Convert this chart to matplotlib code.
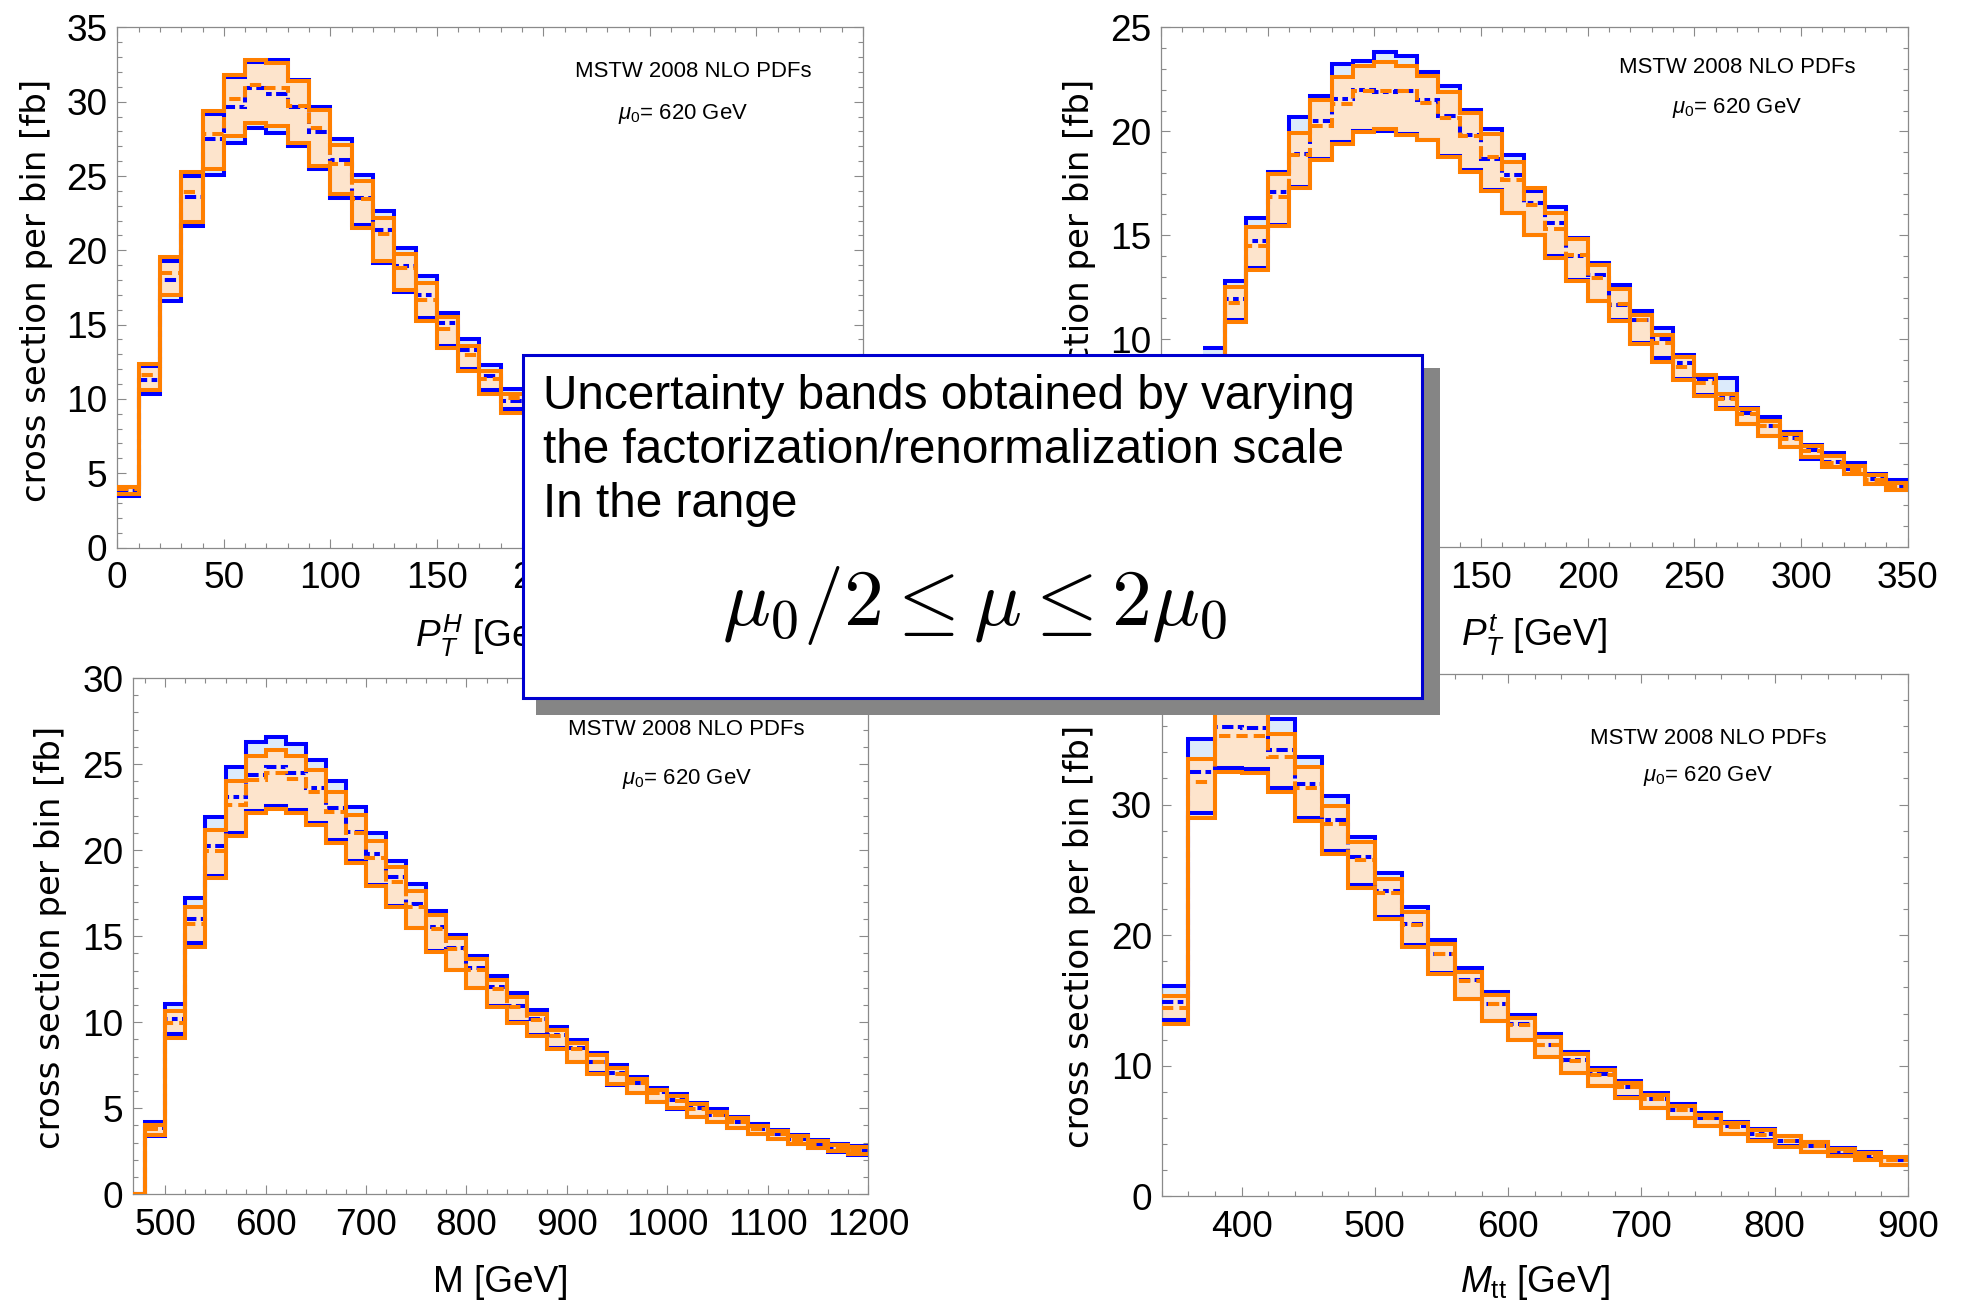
import numpy as np
import matplotlib
matplotlib.use("Agg")
import matplotlib.pyplot as plt
from matplotlib import font_manager as fm
from matplotlib.patches import Rectangle
from matplotlib.ticker import MultipleLocator

# ---------------- data (cross section per bin [fb]) ----------------
# columns: blue upper / blue central / blue lower / orange upper / orange central / orange lower
PTH_EDGES = list(range(0, 200, 10))
PTH_BLUE_HI = [4.1, 12.2, 19.3, 25.02, 29.14, 31.66, 32.65, 32.82, 31.48, 29.65, 27.47, 25.09, 22.64, 20.17, 18.27, 15.78, 14.03, 12.31, 10.68]
PTH_BLUE_C = [3.85, 11.3, 18.0, 23.57, 27.52, 29.65, 30.92, 30.52, 29.65, 27.96, 26.07, 23.51, 21.39, 18.96, 17.0, 15.11, 13.3, 11.52, 9.83]
PTH_BLUE_LO = [3.45, 10.35, 16.56, 21.61, 25.09, 27.2, 28.25, 27.92, 27.03, 25.47, 23.53, 21.68, 19.15, 17.2, 15.45, 13.58, 12.03, 10.62, 9.35]
PTH_OR_HI = [4.1, 12.35, 19.57, 25.25, 29.37, 31.8, 32.82, 32.6, 31.41, 29.41, 27.09, 24.69, 22.17, 19.72, 17.78, 15.49, 13.58, 11.89, 10.34]
PTH_OR_C = [3.95, 11.6, 18.45, 23.91, 27.8, 30.21, 31.1, 30.92, 29.74, 28.25, 25.8, 23.45, 21.12, 18.83, 16.67, 14.71, 12.93, 11.33, 10.06]
PTH_OR_LO = [3.6, 10.6, 17.0, 21.9, 25.47, 27.7, 28.54, 28.36, 27.25, 25.69, 23.8, 21.5, 19.25, 17.3, 15.27, 13.44, 11.89, 10.34, 9.07]

PTT_EDGES = list(range(20, 360, 10))
PTT_BLUE_HI = [9.58, 12.81, 15.81, 18.05, 20.69, 21.69, 23.24, 23.4, 23.8, 23.64, 22.84, 22.16, 21.04, 20.13, 18.85, 17.14, 16.37, 14.86, 13.66, 12.62, 11.34, 10.55, 9.23, 8.17, 8.11, 6.69, 6.25, 5.54, 4.93, 4.52, 4.06, 3.51, 3.2]
PTT_BLUE_C = [8.9, 11.95, 14.7, 17.09, 18.93, 20.48, 21.56, 22.0, 21.88, 21.96, 21.49, 20.73, 19.81, 18.69, 17.89, 16.53, 15.61, 13.98, 13.1, 11.66, 10.94, 10.0, 8.84, 8.07, 7.16, 6.45, 5.84, 5.25, 4.65, 4.1, 3.75, 3.25, 2.95]
PTT_BLUE_LO = [8.2, 10.9, 13.4, 15.5, 17.3, 18.69, 19.49, 20.02, 20.02, 19.89, 19.6, 18.82, 18.13, 17.17, 16.05, 15.02, 13.98, 12.86, 11.85, 10.9, 9.82, 9.09, 8.07, 7.3, 6.7, 5.94, 5.33, 4.83, 4.22, 3.85, 3.51, 3.04, 2.76]
PTT_OR_HI = [9.2, 12.51, 15.41, 17.94, 19.94, 21.49, 22.6, 23.16, 23.32, 23.16, 22.68, 21.88, 20.88, 19.89, 18.53, 17.28, 16.05, 14.81, 13.58, 12.42, 11.18, 10.2, 9.13, 8.28, 7.36, 6.65, 6.04, 5.44, 4.87, 4.38, 3.91, 3.45, 3.1]
PTT_OR_C = [8.8, 11.74, 14.49, 16.85, 18.85, 20.26, 21.33, 21.93, 21.96, 21.93, 21.37, 20.65, 19.76, 18.77, 17.65, 16.45, 15.29, 14.06, 12.94, 11.7, 10.9, 9.8, 8.68, 7.9, 7.1, 6.4, 5.8, 5.2, 4.6, 4.05, 3.72, 3.22, 2.92]
PTT_OR_LO = [8.3, 10.81, 13.31, 15.45, 17.25, 18.64, 19.41, 19.97, 20.13, 19.84, 19.57, 18.77, 18.05, 17.14, 16.09, 15.02, 13.9, 12.8, 11.82, 10.86, 9.78, 8.92, 8.05, 7.26, 6.65, 5.94, 5.33, 4.83, 4.32, 3.85, 3.51, 3.04, 2.76]

M_EDGES = list(range(460, 1220, 20))
M_BLUE_HI = [0, 4.21, 11.05, 17.2, 21.95, 24.82, 26.28, 26.6, 26.16, 25.25, 23.99, 22.53, 20.98, 19.37, 18.01, 16.48, 15.06, 13.86, 12.68, 11.67, 10.69, 9.74, 8.98, 8.21, 7.5, 6.83, 6.17, 5.83, 5.33, 4.93, 4.52, 4.1, 3.74, 3.43, 3.14, 2.9, 2.79]
M_BLUE_C = [0, 3.86, 10.17, 15.97, 20.24, 23.07, 24.37, 24.8, 24.47, 23.6, 22.43, 21.08, 19.76, 18.46, 16.85, 15.55, 14.33, 13.13, 12.06, 10.95, 10.17, 9.26, 8.5, 7.71, 7.02, 6.48, 5.93, 5.5, 5.0, 4.6, 4.2, 3.8, 3.5, 3.2, 2.95, 2.7, 2.55]
M_BLUE_LO = [0, 3.38, 9.33, 14.58, 18.5, 21.02, 22.3, 22.59, 22.34, 21.6, 20.59, 19.39, 17.97, 16.75, 15.5, 14.15, 13.05, 11.98, 10.95, 10.02, 9.26, 8.5, 7.67, 7.02, 6.36, 5.88, 5.36, 4.98, 4.5, 4.21, 3.86, 3.5, 3.21, 2.9, 2.67, 2.48, 2.31]
M_OR_HI = [0, 4.05, 10.64, 16.71, 21.17, 23.99, 25.48, 25.83, 25.44, 24.63, 23.4, 22.05, 20.55, 19.0, 17.62, 16.23, 14.87, 13.65, 12.48, 11.48, 10.45, 9.57, 8.79, 8.07, 7.36, 6.71, 6.07, 5.69, 5.24, 4.81, 4.45, 3.98, 3.68, 3.38, 3.08, 2.85, 2.72]
M_OR_C = [0, 3.8, 9.98, 15.7, 19.95, 22.63, 24.08, 24.47, 24.14, 23.4, 22.24, 20.98, 19.52, 18.17, 16.71, 15.41, 14.25, 13.05, 11.95, 10.9, 10.1, 9.2, 8.45, 7.7, 7.0, 6.45, 5.9, 5.45, 4.98, 4.58, 4.18, 3.78, 3.48, 3.18, 2.92, 2.68, 2.53]
M_OR_LO = [0, 3.43, 9.1, 14.38, 18.36, 20.84, 22.14, 22.4, 22.14, 21.46, 20.44, 19.23, 17.91, 16.67, 15.45, 14.09, 13.03, 11.96, 10.9, 9.98, 9.2, 8.45, 7.7, 7.0, 6.4, 5.9, 5.38, 5.0, 4.52, 4.23, 3.88, 3.52, 3.23, 2.92, 2.69, 2.5, 2.33]

MTT_EDGES = list(range(340, 920, 20))
MTT_BLUE_HI = [16.09, 35.0, 38.8, 38.7, 36.55, 33.67, 30.69, 27.55, 24.75, 22.15, 19.66, 17.52, 15.63, 13.88, 12.41, 11.06, 9.84, 8.81, 7.94, 7.09, 6.38, 5.69, 5.13, 4.66, 4.19, 3.72, 3.41, 3.03]
MTT_BLUE_C = [14.9, 32.5, 35.96, 35.9, 34.2, 31.58, 28.85, 25.97, 23.37, 20.88, 18.59, 16.55, 14.75, 13.19, 11.63, 10.44, 9.34, 8.41, 7.47, 6.63, 6.0, 5.38, 4.75, 4.28, 3.88, 3.5, 3.1, 2.81]
MTT_BLUE_LO = [13.5, 29.36, 32.78, 32.7, 31.25, 28.95, 26.43, 23.81, 21.38, 19.22, 17.1, 15.15, 13.46, 11.96, 10.71, 9.46, 8.46, 7.58, 6.8, 6.02, 5.4, 4.77, 4.3, 3.83, 3.43, 3.15, 2.83, 2.43]
MTT_OR_HI = [15.31, 33.5, 37.9, 37.8, 35.4, 32.9, 29.92, 27.12, 24.32, 21.77, 19.35, 17.2, 15.44, 13.66, 12.19, 10.91, 9.69, 8.72, 7.78, 6.94, 6.25, 5.59, 5.06, 4.59, 4.13, 3.66, 3.36, 2.98]
MTT_OR_C = [14.44, 31.7, 35.27, 35.27, 33.67, 31.25, 28.52, 25.77, 23.22, 20.75, 18.53, 16.5, 14.7, 13.1, 11.6, 10.4, 9.3, 8.38, 7.45, 6.6, 5.98, 5.35, 4.73, 4.26, 3.86, 3.48, 3.08, 2.79]
MTT_OR_LO = [13.19, 28.98, 32.5, 32.45, 30.94, 28.72, 26.23, 23.63, 21.26, 19.09, 17.06, 15.13, 13.44, 11.94, 10.69, 9.44, 8.44, 7.56, 6.78, 6.0, 5.38, 4.75, 4.28, 3.81, 3.41, 3.13, 2.81, 2.41]

ANNOT_PDF = "MSTW 2008 NLO PDFs"
ANNOT_MU = r"$\mu_0$= 620 GeV"
YLABEL = "cross section per bin [fb]"
BOX_LINES = ["Uncertainty bands obtained by varying",
             "the factorization/renormalization scale",
             "In the range"]
BOX_FORMULA = r"$\mu_0/2 \leq \mu \leq 2\mu_0$"

# ---------------- style ----------------
BLUE = "#0000ff"
ORANGE = "#ff7f00"
BLUE_FILL = "#dcebfb"
ORANGE_FILL = "#fde4cc"
LW = 2.9
BLUE_DASH = (0, (2.8, 1.1, 1.4, 1.1))
ORANGE_DASH = (0, (2.8, 1.5))

names = {f.name for f in fm.fontManager.ttflist}
if "Liberation Sans Narrow" in names:
    NARROW, NS = "Liberation Sans Narrow", 1.0
else:
    NARROW, NS = "Liberation Sans", 0.86

plt.rcParams["mathtext.fontset"] = "custom"
plt.rcParams["mathtext.rm"] = NARROW
plt.rcParams["mathtext.it"] = NARROW + ":italic"
plt.rcParams["mathtext.bf"] = NARROW + ":bold"

W, H = 1962, 1301
fig = plt.figure(figsize=(W / 100, H / 100), dpi=100)


def frac_rect(l, r, t, b):
    return [l / W, 1 - b / H, (r - l) / W, (b - t) / H]


def draw(ax, edges, bh, bc, bl, oh, oc, ol):
    e = np.asarray(edges, float)
    ax.stairs(bh, e, baseline=bl, fill=True, color=BLUE_FILL, lw=0, zorder=1)
    ax.stairs(oh, e, baseline=ol, fill=True, color=ORANGE_FILL, lw=0, zorder=2)
    for v in (bh, bl):
        ax.stairs(v, e, baseline=None, color=BLUE, lw=LW, zorder=3)
    ax.stairs(bc, e, baseline=None, color=BLUE, lw=LW, ls=BLUE_DASH, zorder=4)
    for v in (oh, ol):
        ax.stairs(v, e, baseline=None, color=ORANGE, lw=LW, zorder=5)
    ax.stairs(oc, e, baseline=None, color=ORANGE, lw=LW, ls=ORANGE_DASH, zorder=6)


panels = [
    dict(rect=frac_rect(117.3, 863, 27.4, 547.5), data=(PTH_EDGES, PTH_BLUE_HI, PTH_BLUE_C, PTH_BLUE_LO, PTH_OR_HI, PTH_OR_C, PTH_OR_LO),
         xlim=(0, 350), ylim=(0, 35), xmaj=50, xmin=10, ymaj=5, ymin=1,
         xlabel=r"$P_T^H$ [GeV]", xly=-0.192, yl=(-0.109, 0.494),
         pdf=(0.772, 0.916), mu=(0.759, 0.833)),
    dict(rect=frac_rect(1160.8, 1907.8, 27.4, 547), data=(PTT_EDGES, PTT_BLUE_HI, PTT_BLUE_C, PTT_BLUE_LO, PTT_OR_HI, PTT_OR_C, PTT_OR_LO),
         xlim=(0, 350), ylim=(0, 25), xmaj=50, xmin=10, ymaj=5, ymin=1,
         xlabel=r"$P_T^t$ [GeV]", xly=-0.1905, yl=(-0.1086, 0.494),
         pdf=(0.772, 0.922), mu=(0.772, 0.8445)),
    dict(rect=frac_rect(133.2, 868, 678, 1194.3), data=(M_EDGES, M_BLUE_HI, M_BLUE_C, M_BLUE_LO, M_OR_HI, M_OR_C, M_OR_LO),
         xlim=(468, 1200), ylim=(0, 30), xmaj=100, xmin=20, ymaj=5, ymin=1,
         xlabel="M [GeV]", xly=-0.1885, yl=(-0.1121, 0.498),
         pdf=(0.753, 0.8995), mu=(0.7535, 0.804)),
    dict(rect=frac_rect(1161.7, 1907.9, 674, 1196.4), data=(MTT_EDGES, MTT_BLUE_HI, MTT_BLUE_C, MTT_BLUE_LO, MTT_OR_HI, MTT_OR_C, MTT_OR_LO),
         xlim=(340, 900), ylim=(0, 40), xmaj=100, xmin=20, ymaj=10, ymin=2,
         xlabel=r"$M_{\mathrm{tt}}$ [GeV]", xly=-0.1824, yl=(-0.1099, 0.498),
         pdf=(0.732, 0.877), mu=(0.732, 0.805)),
]

TICK_SIZE = 31 * NS
for p in panels:
    ax = fig.add_axes(p["rect"])
    draw(ax, *p["data"])
    ax.set_xlim(*p["xlim"])
    ax.set_ylim(*p["ylim"])
    ax.xaxis.set_major_locator(MultipleLocator(p["xmaj"]))
    ax.xaxis.set_minor_locator(MultipleLocator(p["xmin"]))
    ax.yaxis.set_major_locator(MultipleLocator(p["ymaj"]))
    ax.yaxis.set_minor_locator(MultipleLocator(p["ymin"]))
    for s in ax.spines.values():
        s.set_color("#8a8a8a")
        s.set_linewidth(0.9)
    ax.tick_params(which="both", direction="in", top=True, right=True,
                   color="#8a8a8a", width=0.8)
    ax.tick_params(which="major", length=6.2, labelsize=TICK_SIZE,
                   labelfontfamily=NARROW)
    ax.tick_params(axis="x", which="major", pad=10)
    ax.tick_params(axis="y", which="major", pad=7)
    ax.tick_params(which="minor", length=3.6)
    ax.text(0.5, p["xly"], p["xlabel"], transform=ax.transAxes, ha="center",
            va="baseline", fontsize=31 * NS, family=NARROW)
    ax.text(p["yl"][0], p["yl"][1], YLABEL, transform=ax.transAxes, rotation=90,
            ha="center", va="center", fontsize=24.5, family="DejaVu Sans")
    ax.text(p["pdf"][0], p["pdf"][1], ANNOT_PDF, transform=ax.transAxes,
            ha="center", va="center", fontsize=18.5 * NS, family=NARROW, zorder=10)
    ax.text(p["mu"][0], p["mu"][1], ANNOT_MU, transform=ax.transAxes,
            ha="center", va="center", fontsize=18.5 * NS, family=NARROW, zorder=10)

# ---------------- overlay annotation box ----------------
ov = fig.add_axes([0, 0, 1, 1], zorder=20)
ov.set_xlim(0, W)
ov.set_ylim(H, 0)
ov.axis("off")
ov.patch.set_alpha(0)
ov.add_patch(Rectangle((535.5, 368), 1440 - 535.5, 715 - 368, facecolor="#858585",
                       edgecolor="none"))
ov.add_patch(Rectangle((523, 355), 1422 - 523, 698 - 355, facecolor="white",
                       edgecolor="#0000d0", linewidth=2.2))
for txt, yb in zip(BOX_LINES, (409, 462.7, 516.7)):
    ov.text(543, yb, txt, ha="left", va="baseline", fontsize=34.4,
            family="Liberation Sans")
ov.text(974, 625, BOX_FORMULA, ha="center", va="baseline", fontsize=57.5,
        math_fontfamily="cm")

fig.savefig("out.png", dpi=100)
